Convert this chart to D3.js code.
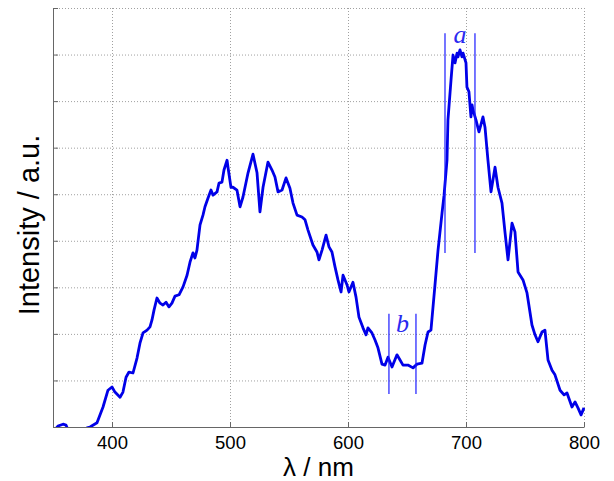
<!DOCTYPE html>
<html>
<head>
<meta charset="utf-8">
<script src="https://cdn.jsdelivr.net/npm/d3@7"></script>
<style>
  body { margin: 0; background: #fff; }
  text { font-family: "Liberation Sans", Arial, sans-serif; }
</style>
</head>
<body>
<svg width="614" height="481"></svg>
<script>
'use strict';

// wavelength (nm) and intensity (a.u.)
var lambda = [350.0, 354.2, 358.5, 361.0, 363.6, 368.6, 374.6, 378.8, 381.4, 387.3,
  392.4, 396.6, 400.0, 402.5, 406.8, 409.3, 411.9, 414.4, 417.8, 421.2,
  423.7, 426.3, 429.7, 432.2, 433.9, 435.6, 438.1, 440.7, 443.2, 445.8,
  448.3, 450.8, 453.4, 456.8, 460.2, 463.6, 466.1, 468.6, 470.3, 472.0,
  474.6, 477.1, 478.8, 481.4, 483.9, 485.6, 489.0, 490.7, 493.2, 494.9,
  497.5, 498.3, 500.8, 502.5, 505.9, 508.5, 511.0, 515.3, 519.5, 522.9,
  525.4, 528.0, 532.2, 535.6, 538.1, 540.7, 544.1, 547.5, 550.8, 553.4,
  556.8, 561.0, 563.6, 566.1, 570.3, 573.7, 575.4, 578.0, 581.4, 583.9,
  586.4, 589.0, 591.5, 594.1, 595.8, 599.2, 600.8, 604.2, 606.8, 609.3,
  612.7, 615.3, 616.9, 620.3, 622.9, 625.4, 628.8, 631.4, 633.9, 637.3,
  641.5, 644.1, 646.6, 650.8, 655.1, 658.5, 662.7, 665.3, 667.8, 670.3,
  673.7, 676.3, 679.7, 681.4, 683.9, 684.7, 687.3, 689.0, 690.7, 692.4,
  693.2, 694.9, 696.6, 697.5, 700.0, 700.8, 702.5, 704.2, 705.1, 705.9,
  708.5, 711.0, 714.4, 716.1, 718.6, 721.2, 724.6, 727.1, 730.5, 733.1,
  735.6, 739.0, 741.5, 744.1, 748.3, 751.7, 755.9, 758.5, 761.0, 764.4,
  766.9, 769.5, 772.9, 775.4, 779.7, 783.1, 785.6, 789.8, 792.4, 794.9,
  797.5, 800.0];
var intensity = [-0.11, 0.02, 0.06, 0.04, -0.11, -0.19, -0.13, -0.02, 0.00, 0.09,
  0.43, 0.79, 0.86, 0.75, 0.64, 0.75, 1.07, 1.18, 1.16, 1.48,
  1.80, 2.02, 2.08, 2.15, 2.30, 2.51, 2.77, 2.66, 2.62, 2.68,
  2.58, 2.66, 2.81, 2.84, 3.01, 3.26, 3.54, 3.74, 3.63, 3.80,
  4.34, 4.55, 4.73, 4.92, 5.09, 4.98, 5.05, 5.24, 5.26, 5.52,
  5.73, 5.58, 5.15, 5.15, 5.09, 4.73, 4.94, 5.46, 5.86, 5.46,
  4.62, 5.15, 5.69, 5.52, 5.37, 5.05, 5.09, 5.35, 5.13, 4.81,
  4.55, 4.51, 4.45, 4.23, 3.91, 3.76, 3.59, 3.80, 4.12, 3.87,
  3.76, 3.44, 3.16, 2.90, 3.26, 3.05, 2.90, 3.11, 2.79, 2.36,
  2.13, 1.98, 2.13, 2.02, 1.87, 1.70, 1.35, 1.33, 1.50, 1.29,
  1.55, 1.44, 1.33, 1.33, 1.27, 1.35, 1.37, 1.76, 2.04, 2.08,
  3.05, 3.80, 4.60, 4.98, 5.73, 6.59, 7.45, 7.99, 7.82, 8.03,
  7.95, 8.10, 7.95, 8.03, 7.82, 7.30, 7.20, 6.66, 6.92, 6.81,
  6.59, 6.34, 6.66, 6.44, 5.73, 5.05, 5.58, 5.15, 4.81, 4.17,
  3.59, 4.38, 4.19, 3.33, 3.16, 2.88, 2.19, 1.98, 1.83, 2.04,
  2.08, 1.44, 1.22, 1.12, 0.79, 0.69, 0.73, 0.43, 0.54, 0.41,
  0.26, 0.41];

var xTicks = [400, 500, 600, 700, 800];
var yTicks = [0, 1, 2, 3, 4, 5, 6, 7, 8, 9];

// integration windows a and b
var bandNames = ['a', 'b'];
var bandFrom = [682.2, 634.7];
var bandTo = [707.6, 657.6];
var bandLow = [3.74, 0.71];
var bandHigh = [8.46, 2.43];
var bandLabelY = [8.25, 2.04];

var svg = d3.select('svg');
var margin = { top: 8, right: 30, bottom: 54, left: 53 };
var width = 614 - margin.left - margin.right;
var height = 481 - margin.top - margin.bottom;

var x = d3.scaleLinear().domain([350, 800]).range([0, width]);
var y = d3.scaleLinear().domain([0, 9]).range([height, 0]);

var g = svg.append('g')
  .attr('transform', 'translate(' + margin.left + ',' + margin.top + ')');

// dotted grid
g.append('g')
  .selectAll('line')
  .data(yTicks.slice(1))
  .enter()
  .append('line')
  .attr('x1', 0).attr('x2', width)
  .attr('y1', function (d) { return y(d) + 0.5; })
  .attr('y2', function (d) { return y(d) + 0.5; })
  .attr('stroke', '#a0a0a0')
  .attr('stroke-dasharray', '1,2');

g.append('g')
  .selectAll('line')
  .data(xTicks)
  .enter()
  .append('line')
  .attr('x1', function (d) { return x(d) + 0.5; })
  .attr('x2', function (d) { return x(d) + 0.5; })
  .attr('y1', 0).attr('y2', height)
  .attr('stroke', '#a0a0a0')
  .attr('stroke-dasharray', '1,2');

// axes, ticks pointing inward
var xAxis = g.append('g')
  .attr('transform', 'translate(0,' + height + ')')
  .call(d3.axisBottom(x).tickValues(xTicks).tickSizeInner(-5).tickSizeOuter(0).tickPadding(9));
var yAxis = g.append('g')
  .call(d3.axisLeft(y).tickValues(yTicks).tickSizeInner(-5).tickSizeOuter(0).tickFormat(''));

[xAxis, yAxis].forEach(function (ax) {
  ax.select('.domain').attr('stroke', '#666');
  ax.selectAll('.tick line').attr('stroke', '#666');
});
xAxis.selectAll('.tick text')
  .attr('fill', '#000')
  .style('font-size', '18.5px')
  .style('font-family', '"Liberation Sans", Arial, sans-serif');

// spectrum
svg.append('defs').append('clipPath').attr('id', 'plot')
  .append('rect').attr('width', width + 2).attr('height', height).attr('x', -1);

var line = d3.line()
  .x(function (d, i) { return x(lambda[i]); })
  .y(function (d) { return y(d); });

g.append('path')
  .datum(intensity)
  .attr('clip-path', 'url(#plot)')
  .attr('fill', 'none')
  .attr('stroke', '#0000e8')
  .attr('stroke-width', 2.8)
  .attr('stroke-linejoin', 'round')
  .attr('d', line);

// band markers
bandNames.forEach(function (name, i) {
  [bandFrom[i], bandTo[i]].forEach(function (v) {
    g.append('line')
      .attr('x1', x(v)).attr('x2', x(v))
      .attr('y1', y(bandHigh[i])).attr('y2', y(bandLow[i]))
      .attr('stroke', '#1a1aff')
      .attr('stroke-width', 1.2);
  });
  g.append('text')
    .attr('x', x((bandFrom[i] + bandTo[i]) / 2))
    .attr('y', y(bandLabelY[i]))
    .attr('text-anchor', 'middle')
    .attr('fill', '#2a2af0')
    .style('font-family', '"Liberation Serif", "Times New Roman", serif')
    .style('font-style', 'italic')
    .style('font-size', '26px')
    .text(name);
});

// axis titles
svg.append('text')
  .attr('x', margin.left + width / 2)
  .attr('y', 476)
  .attr('text-anchor', 'middle')
  .style('font-size', '26px')
  .text('λ / nm');

svg.append('text')
  .attr('transform', 'translate(39,225) rotate(-90)')
  .attr('text-anchor', 'middle')
  .style('font-size', '29px')
  .text('Intensity / a.u.');
</script>
</body>
</html>
